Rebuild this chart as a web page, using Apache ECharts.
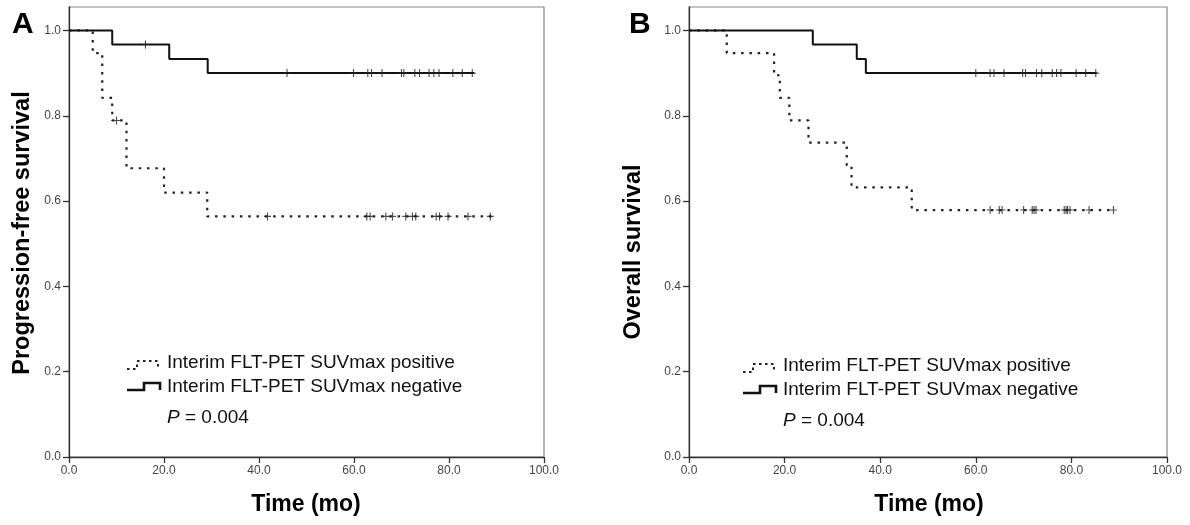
<!DOCTYPE html>
<html><head><meta charset="utf-8">
<script src="https://cdn.jsdelivr.net/npm/echarts@6/dist/echarts.min.js"></script>
<style>html,body{margin:0;padding:0;background:#fff}#c{width:1190px;height:525px}</style>
</head><body><div id="c"></div>
<script>
// ---------- data ----------
const timeTicks = [0, 20, 40, 60, 80, 100];
const survTicks = [0, 0.2, 0.4, 0.6, 0.8, 1.0];
const seriesNames = ['Interim FLT-PET SUVmax positive', 'Interim FLT-PET SUVmax negative'];
const pLabel = '0.004';

// Panel A: progression-free survival
const A_pos_time = [0, 5, 7, 9.1, 12.1, 20, 29.1, 89.2];
const A_pos_surv = [1, 0.947, 0.842, 0.789, 0.677, 0.620, 0.564, 0.564];
const A_pos_cens = [10, 41.8, 62.7, 63.4, 66.7, 68.1, 70.9, 72.3, 73, 77.3, 78, 79.8, 84, 88.7];
const A_neg_time = [0, 9.1, 21.1, 29.2, 85.3];
const A_neg_surv = [1, 0.967, 0.933, 0.9, 0.9];
const A_neg_cens = [16.1, 45.9, 59.9, 62.9, 63.7, 65.9, 70, 70.5, 72.8, 73.8, 75.8, 76.8, 77.9, 80.8, 82.8, 84.9];

// Panel B: overall survival
const B_pos_time = [0, 7.9, 17.8, 19, 21, 25, 33, 34, 46.6, 89.1];
const B_pos_surv = [1, 0.947, 0.895, 0.842, 0.789, 0.737, 0.684, 0.632, 0.579, 0.579];
const B_pos_cens = [63, 64.9, 65.5, 70, 71.8, 72.2, 72.6, 78.5, 78.9, 79.2, 79.7, 83.7, 88.8];
const B_neg_time = [0, 25.9, 35.1, 37, 85.3];
const B_neg_surv = [1, 0.967, 0.933, 0.9, 0.9];
const B_neg_cens = [60, 63, 63.8, 65.9, 69.8, 70.4, 72.7, 73.8, 76, 76.9, 77.8, 81, 83, 85.1];

// ---------- helpers ----------
function zip(t, s) { return t.map((v, i) => [v, s[i]]); }
function survAt(t, times, surv) {
  let s = surv[0];
  for (let i = 0; i < times.length; i++) { if (times[i] <= t) s = surv[i]; }
  return s;
}
function censData(c, times, surv) { return c.map(t => [t, survAt(t, times, surv)]); }

const FONT = 'Liberation Sans, Arial, sans-serif';
const plusPath = 'path://M4.2,0H5.8V10H4.2Z M0,4.3H10V5.7H0Z';

function xAxis(idx) {
  return {
    type: 'value', gridIndex: idx, min: 0, max: 100, interval: 20,
    axisLine: { show: true, lineStyle: { color: '#333', width: 1.3 } },
    axisTick: { show: true, length: 6, inside: false, lineStyle: { color: '#333', width: 1.3 } },
    axisLabel: { show: true, fontSize: 12, color: '#444', fontFamily: FONT, margin: 8,
      formatter: v => v.toFixed(1), customValues: timeTicks },
    splitLine: { show: false }
  };
}
function yAxis(idx) {
  return {
    type: 'value', gridIndex: idx, min: 0, max: 1.055,
    axisLine: { show: true, lineStyle: { color: '#333', width: 1.3 } },
    axisTick: { show: true, length: 6, lineStyle: { color: '#333', width: 1.3 }, customValues: survTicks },
    axisLabel: { show: true, fontSize: 12, color: '#444', fontFamily: FONT, margin: 8,
      formatter: v => v.toFixed(1), customValues: survTicks },
    splitLine: { show: false }
  };
}
function kmSeries(idx, t, s, dotted) {
  return {
    type: 'line', xAxisIndex: idx, yAxisIndex: idx, step: 'end', data: zip(t, s),
    showSymbol: false, symbol: 'none', silent: true, animation: false,
    lineStyle: dotted ? { color: '#222', width: 2.2, type: [2.5, 5.8] } : { color: '#111', width: 2 },
    z: 3
  };
}
function censSeries(idx, c, t, s) {
  return {
    type: 'scatter', xAxisIndex: idx, yAxisIndex: idx, data: censData(c, t, s),
    symbol: plusPath, symbolSize: [7, 8], itemStyle: { color: '#222' }, silent: true, animation: false, z: 4
  };
}

function legendGraphics(x0, y0) {
  // x0: icon left, y0: cap-centre of first text line
  const g = [];
  g.push({ type: 'polyline', shape: { points: [[x0, y0 + 6], [x0 + 10, y0 + 6], [x0 + 10, y0 - 2], [x0 + 31, y0 - 2], [x0 + 31, y0 + 5]] },
    style: { stroke: '#222', lineWidth: 2, lineDash: [2.5, 3.5], fill: null } });
  g.push({ type: 'polyline', shape: { points: [[x0, y0 + 27], [x0 + 17, y0 + 27], [x0 + 17, y0 + 20], [x0 + 33, y0 + 20], [x0 + 33, y0 + 27]] },
    style: { stroke: '#111', lineWidth: 2.6, fill: null } });
  g.push({ type: 'text', left: x0 + 40, top: y0 - 10, style: { text: seriesNames[0], font: '19px ' + FONT, fill: '#111' } });
  g.push({ type: 'text', left: x0 + 40, top: y0 + 14, style: { text: seriesNames[1], font: '19px ' + FONT, fill: '#111' } });
  g.push({ type: 'text', left: x0 + 40, top: y0 + 45, style: {
    text: '{i|P} = ' + pLabel, font: '19px ' + FONT, fill: '#111',
    rich: { i: { fontStyle: 'italic', fontSize: 19, fontFamily: FONT, fill: '#111' } } } });
  return g;
}

const chart = echarts.init(document.getElementById('c'), null, { renderer: 'canvas' });
chart.setOption({
  backgroundColor: '#fff',
  animation: false,
  grid: [
    { left: 69, right: 646, top: 7, bottom: 68, show: true, borderColor: '#888', borderWidth: 1.2, containLabel: false },
    { left: 689, right: 23, top: 7, bottom: 68, show: true, borderColor: '#888', borderWidth: 1.2, containLabel: false }
  ],
  xAxis: [xAxis(0), xAxis(1)],
  yAxis: [yAxis(0), yAxis(1)],
  series: [
    kmSeries(0, A_pos_time, A_pos_surv, true),
    kmSeries(0, A_neg_time, A_neg_surv, false),
    censSeries(0, A_pos_cens, A_pos_time, A_pos_surv),
    censSeries(0, A_neg_cens, A_neg_time, A_neg_surv),
    kmSeries(1, B_pos_time, B_pos_surv, true),
    kmSeries(1, B_neg_time, B_neg_surv, false),
    censSeries(1, B_pos_cens, B_pos_time, B_pos_surv),
    censSeries(1, B_neg_cens, B_neg_time, B_neg_surv)
  ],
  graphic: [
    { type: 'text', left: 12, top: 10, style: { text: 'A', font: 'bold 30px ' + FONT, fill: '#000' } },
    { type: 'text', left: 629, top: 10, style: { text: 'B', font: 'bold 30px ' + FONT, fill: '#000' } },
    { type: 'text', x: 23, y: 233, rotation: Math.PI / 2, style: { text: 'Progression-free survival', font: 'bold 23.5px ' + FONT, fill: '#000', align: 'center', verticalAlign: 'middle' } },
    { type: 'text', x: 634, y: 252, rotation: Math.PI / 2, style: { text: 'Overall survival', font: 'bold 23.5px ' + FONT, fill: '#000', align: 'center', verticalAlign: 'middle' } },
    { type: 'text', x: 306, y: 505, style: { text: 'Time (mo)', font: 'bold 23px ' + FONT, fill: '#000', align: 'center', verticalAlign: 'middle' } },
    { type: 'text', x: 929, y: 505, style: { text: 'Time (mo)', font: 'bold 23px ' + FONT, fill: '#000', align: 'center', verticalAlign: 'middle' } }
  ].concat(legendGraphics(127, 363), legendGraphics(743, 366))
});
</script>
</body></html>
